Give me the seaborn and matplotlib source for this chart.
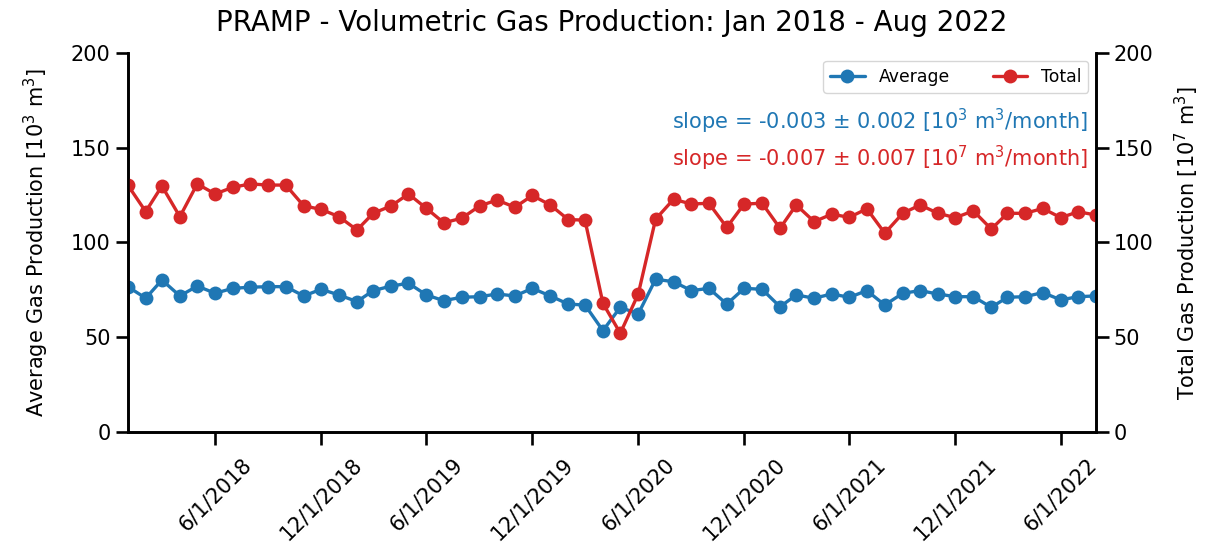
import pandas as pd
import matplotlib
matplotlib.use("Agg")
import matplotlib.pyplot as plt
import matplotlib.dates as mdates
import seaborn as sns

sns.set_style("ticks")
plt.rcParams["font.family"] = ["DejaVu Sans"]
plt.rcParams.update({"text.color": "black", "axes.labelcolor": "black",
                     "xtick.color": "black", "ytick.color": "black",
                     "axes.edgecolor": "black"})

# monthly data, Jan 2018 - Aug 2022
months = pd.date_range("2018-01-01", "2022-08-01", freq="MS")

average = [76.7, 70.6, 80.2, 71.8, 77.0, 73.2, 75.8, 76.4, 76.7, 76.7, 71.8, 75.3,
           72.3, 68.8, 74.6, 77.0, 78.5, 72.3, 69.3, 71.1, 71.4, 72.8, 71.8, 75.8,
           71.8, 67.5, 67.0, 53.5, 65.8, 62.3, 80.6, 79.3, 74.6, 75.8, 67.5, 75.8,
           75.3, 66.1, 72.3, 70.6, 72.8, 71.1, 74.6, 67.0, 73.2, 74.6, 72.8, 71.4,
           71.4, 65.8, 71.1, 71.4, 73.6, 69.7, 71.4, 71.8]

total = [130.3, 116.3, 129.8, 113.6, 130.9, 125.6, 129.1, 130.9, 130.3, 130.3, 119.3, 117.5,
         113.6, 106.6, 115.4, 119.3, 125.6, 118.0, 110.4, 112.8, 119.3, 122.4, 118.6, 124.8,
         119.8, 112.1, 111.8, 67.9, 52.1, 72.8, 112.3, 122.8, 120.3, 120.7, 108.0, 120.3,
         120.7, 107.5, 119.8, 111.0, 114.9, 113.3, 117.8, 104.9, 115.4, 119.8, 115.4, 113.1,
         116.7, 107.1, 115.4, 115.4, 118.0, 113.1, 116.2, 114.5]

blue = "#1f77b4"
red = "#d62728"

fig = plt.figure(figsize=(12.17, 5.44), dpi=100)
ax = fig.add_axes([0.105, 0.2059, 0.7956, 0.6967])
ax2 = ax.twinx()

sns.lineplot(x=months, y=average, ax=ax, color=blue, marker="o", markersize=10,
             markeredgewidth=0, linewidth=2.4, label="Average", legend=False)
sns.lineplot(x=months, y=total, ax=ax2, color=red, marker="o", markersize=10,
             markeredgewidth=0, linewidth=2.4, label="Total", legend=False)

for a in (ax, ax2):
    a.set_ylim(0, 200)
    a.set_yticks([0, 50, 100, 150, 200])
    a.spines["top"].set_visible(False)
    for s in ("left", "right", "bottom"):
        a.spines[s].set_linewidth(1.9)
    a.tick_params(axis="both", labelsize=15, length=9, width=1.9, direction="out")

ax.set_xlim(months[0], months[-1])
ax.xaxis.set_major_locator(mdates.MonthLocator(bymonth=[6, 12], bymonthday=1))
ax.xaxis.set_major_formatter(mdates.DateFormatter("%-m/%-d/%Y"))
for lbl in ax.get_xticklabels():
    lbl.set_rotation(45)
    lbl.set_ha("center")
ax.tick_params(axis="x", pad=7)

ax.set_xlabel("")
ax.set_ylabel("Average Gas Production [10$^3$ m$^3$]", fontsize=15, labelpad=14)
ax2.set_ylabel("Total Gas Production [10$^7$ m$^3$]", fontsize=15, labelpad=14)
ax.set_title("PRAMP - Volumetric Gas Production: Jan 2018 - Aug 2022", fontsize=20, pad=16)

h1, l1 = ax.get_legend_handles_labels()
h2, l2 = ax2.get_legend_handles_labels()
ax2.legend(h1 + h2, l1 + l2, loc="upper right", ncol=2, fontsize=12.4,
           borderaxespad=0.45, columnspacing=2.5)

ax2.text(0.992, 0.82, "slope = -0.003 $\\pm$ 0.002 [10$^3$ m$^3$/month]", color=blue,
         fontsize=15, ha="right", va="center", transform=ax2.transAxes)
ax2.text(0.992, 0.723, "slope = -0.007 $\\pm$ 0.007 [10$^7$ m$^3$/month]", color=red,
         fontsize=15, ha="right", va="center", transform=ax2.transAxes)

fig.savefig("out.png", dpi=100)
